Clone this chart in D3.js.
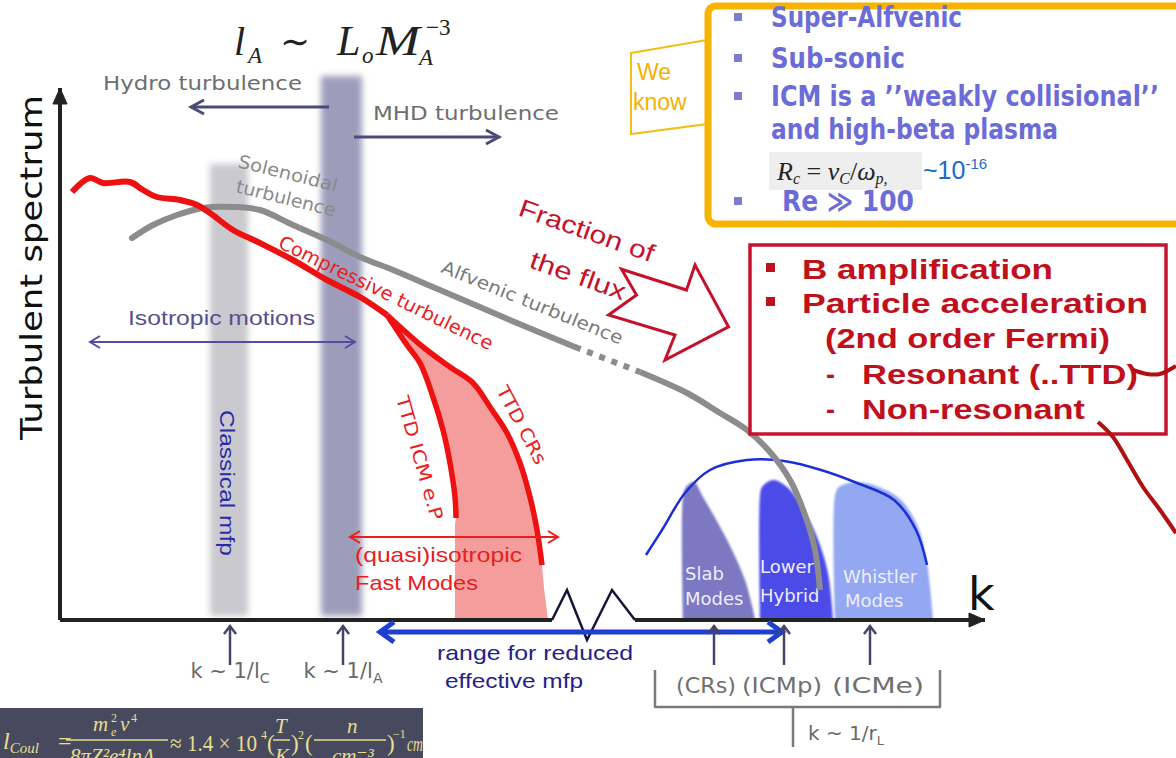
<!DOCTYPE html>
<html>
<head>
<meta charset="utf-8">
<title>Turbulent spectrum in the ICM</title>
<script src="https://cdn.jsdelivr.net/npm/d3@7/dist/d3.min.js"></script>
<style>
    body { margin: 0; background: #ffffff; }
    svg { display: block; }
    .sketch { font-family: 'DejaVu Sans', sans-serif; }
    .arial { font-family: 'Liberation Sans', Arial, sans-serif; }
    .serif { font-family: 'Liberation Serif', 'DejaVu Serif', serif; }
    .narrow { font-family: 'Liberation Sans Narrow', 'DejaVu Sans Condensed', sans-serif; }
</style>
</head>
<body>
<div id="panel"></div>
<script>
// k (arbitrary units, 0..185) against turbulent spectrum (arbitrary units, 0..133)
var compressiveSpectrum = [[2.4,107],[6,110.5],[8.6,109.25],[14,109.5],[16.6,107.5],[19.4,105.75],[24,105],
    [27.4,103.75],[30,101.75],[34.6,97.5],[40,94.25],[46.6,90],[53.4,85],[60,80.75],[65.4,76.25]];
var ttdIcmBranch = [[65.4,76.25],[69.4,68.75],[72,64.25],[74.6,55.75],[76.6,47.5],[78,39.25],[79,30.75],[79.2,25.5]];
var ttdCrsBranch = [[65.4,76.25],[72.6,68.25],[78,63.25],[82.6,59.25],[86,53.25],[89.4,46.75],[92,39.25],
    [94,30.75],[95.4,22.5],[96.4,13.75]];
var alfvenicSpectrum = [[14.4,95.5],[18.6,98.75],[23.4,101.25],[28.6,103],[34.6,103.25],[40,102.5],[46.6,98.75],
    [53.4,95],[60,90.75],[66.6,87.5],[76,82.5],[91.4,74.25],[103,68.25]];
var alfvenicDotted = [[103,68.25],[116,62]];
var alfvenicTail = [[116,62],[125.4,56.75],[132,51.75],[137.4,47.5],[142,42],[146,35],[149,26.25],[151,17.5],[152,7.5]];
var kineticEnvelope = [[117.2,16.25],[120.4,22.5],[125,31.75],[130,37.5],[137.4,40],[144.8,39.75],[152.2,37.5],
    [159.4,34.25],[166.8,30],[171.2,22.5],[173.4,13.75]];
var slabModes = [[124.6,0],[124.6,30.75],[125.2,33.25],[126.8,34.5],[128.6,30.75],[131.6,24.25],[134.4,17.5],
    [137,10],[138.6,2.5],[139,0]];
var lowerHybridModes = [[140,0],[140,31],[140.4,33.25],[142.6,35],[145.4,33.25],[148.4,28.25],[151.4,20.75],
    [153.6,11.75],[154.6,0]];
var whistlerModes = [[155,0],[155,31],[155.8,33.25],[159.4,34.5],[163.8,33.25],[168.2,30],[171.6,23.25],
    [173.4,14.25],[174.6,0]];
var mfpBands = [[30, 37.6, 114], [52.2, 60.4, 136]];          // classical mfp, Alfven scale
var scaleMarkers = [34, 56.6];
var scaleLabels = [["k ~ 1/l", "C"], ["k ~ 1/l", "A"]];
var larmorMarkers = [130.8, 144.8, 162];
var larmorLabels = ["(CRs)", "(ICMp)", "(ICMe)"];
var modeLabels = [["Slab", "Modes"], ["Lower", "Hybrid"], ["Whistler", "Modes"]];
var fluxArrow = [[112.3,87.7],[125.3,82.5],[127,88.75],[133.7,73.3],[121,65],[123,71.25],[109.7,76.25],[115.3,81.25]];
var resonantLink = [[214.6,62.5],[217.4,61.5],[220,61.5],[223.2,63.5]];
var nonResonantLink = [[207.6,49.5],[210.6,45.75],[213.4,40],[216.6,33.25],[220,27.5],[223.2,21.75]];
var weKnowItems = ["Super-Alfvenic", "Sub-sonic", "ICM is a \u2019\u2019weakly collisional\u2019\u2019", "and high-beta plasma", "Re \u226B 100"];
var roleItems = ["B amplification", "Particle acceleration", "(2nd order Fermi)", "Resonant (..TTD)", "Non-resonant"];

var svg = d3.select("#panel").append("svg").attr("width", 1176).attr("height", 758);
var x = d3.scaleLinear().domain([0, 185]).range([60, 985]);
var y = d3.scaleLinear().domain([0, 133]).range([620, 88]);
var line = d3.line().x(d => x(d[0])).y(d => y(d[1]));
var smooth = d3.line().x(d => x(d[0])).y(d => y(d[1])).curve(d3.curveCatmullRom.alpha(0.5));

var defs = svg.append("defs");
defs.append("filter").attr("id", "soft").attr("x", "-30%").attr("width", "160%").attr("y", "-5%").attr("height", "110%")
    .append("feGaussianBlur").attr("stdDeviation", 3);
defs.append("filter").attr("id", "soft1").attr("x", "-10%").attr("width", "120%").attr("y", "-10%").attr("height", "120%")
    .append("feGaussianBlur").attr("stdDeviation", 1.3);

function arrowHead(id, color, len, wid, filled, sw) {
    defs.append("marker")
        .attr("id", id)
        .attr("markerUnits", "userSpaceOnUse")
        .attr("markerWidth", len + 8).attr("markerHeight", wid + 8)
        .attr("viewBox", [-4, -4, len + 8, wid + 8].join(" "))
        .attr("refX", len).attr("refY", wid / 2)
        .attr("orient", "auto-start-reverse")
        .attr("overflow", "visible")
        .append("path")
        .attr("d", filled ? `M0,0L${len},${wid / 2}L0,${wid}Z` : `M0,0L${len},${wid / 2}L0,${wid}`)
        .attr("fill", filled ? color : "none")
        .attr("stroke", color)
        .attr("stroke-width", sw);
}
arrowHead("axisHead", "#222222", 16, 14, true, 1);
arrowHead("slateHead", "#4b4b7a", 13, 14, false, 3);
arrowHead("purpleHead", "#5a4a9e", 10, 12, false, 2);
arrowHead("redHead", "#e8201c", 10, 12, false, 2);
arrowHead("blueHead", "#1f3fd0", 14, 20, false, 5);
arrowHead("tickHead", "#44446a", 8, 12, false, 2.5);

function txt(g, s, px, py, o) {
    o = o || {};
    var t = g.append("text").attr("x", px).attr("y", py).text(s)
        .attr("font-size", o.size || 20).attr("fill", o.fill || "#333")
        .attr("class", o.cls || "sketch");
    if (o.rot) t.attr("transform", "rotate(" + o.rot + "," + px + "," + py + ")");
    if (o.len) t.attr("textLength", o.len).attr("lengthAdjust", "spacingAndGlyphs");
    if (o.weight) t.attr("font-weight", o.weight);
    if (o.style) t.attr("font-style", o.style);
    if (o.anchor) t.attr("text-anchor", o.anchor);
    return t;
}

function arrow(g, a, b, color, width, head, both) {
    var l = g.append("path").attr("d", line([a, b])).attr("stroke", color)
        .attr("stroke-width", width).attr("fill", "none").attr("marker-end", "url(#" + head + ")");
    if (both) l.attr("marker-start", "url(#" + head + ")");
    return l;
}

// ---- vertical scale bands ----
var bandColors = ["#c9c9ce", "#9d9dbb"];
svg.append("g").selectAll("rect").data(mfpBands).join("rect")
    .attr("x", d => x(d[0])).attr("width", d => x(d[1]) - x(d[0]))
    .attr("y", d => y(d[2])).attr("height", d => y(0) - y(d[2]) - 4)
    .attr("fill", (d, i) => bandColors[i]).attr("filter", "url(#soft)");

// ---- fast-mode damping region ----
var pinkArea = ttdIcmBranch.concat([[79, 24], [79, 0], [97.6, 0], [96.8, 8]], ttdCrsBranch.slice().reverse());
svg.append("path").attr("d", line(pinkArea) + "Z").attr("fill", "#f59d9d");

// ---- kinetic modes ----
var modeColors = ["#7c78c2", "#4b4be8", "#93a7f2"];
svg.append("g").selectAll("path").data([slabModes, lowerHybridModes, whistlerModes]).join("path")
    .attr("d", d => smooth(d) + "Z").attr("fill", (d, i) => modeColors[i]).attr("filter", "url(#soft1)");
var modeAnchors = [[[125, 10], [125, 3.75]], [[140, 11.75], [140, 4.5]], [[156.6, 9.25], [157, 3.25]]];
modeLabels.forEach(function(pair, i) {
    pair.forEach(function(s, j) {
        txt(svg, s, x(modeAnchors[i][j][0]), y(modeAnchors[i][j][1]), {size: 18, fill: "#eeeeff"});
    });
});
svg.append("path").attr("d", smooth(kineticEnvelope)).attr("fill", "none")
    .attr("stroke", "#1b2fd6").attr("stroke-width", 2.5);

// ---- Alfvenic (solenoidal) spectrum ----
svg.append("path").attr("d", smooth(alfvenicSpectrum)).attr("fill", "none")
    .attr("stroke", "#8c8c8c").attr("stroke-width", 6).attr("stroke-linecap", "round");
svg.append("path").attr("d", line(alfvenicDotted)).attr("fill", "none")
    .attr("stroke", "#8c8c8c").attr("stroke-width", 6).attr("stroke-dasharray", "6,7");
svg.append("path").attr("d", smooth(alfvenicTail)).attr("fill", "none")
    .attr("stroke", "#8c8c8c").attr("stroke-width", 6);

// ---- compressive spectrum ----
svg.append("path").attr("d", smooth(compressiveSpectrum)).attr("fill", "none")
    .attr("stroke", "#ee1111").attr("stroke-width", 6).attr("stroke-linejoin", "round");
svg.append("path").attr("d", smooth(ttdIcmBranch)).attr("fill", "none")
    .attr("stroke", "#ee1111").attr("stroke-width", 5.5);
svg.append("path").attr("d", smooth(ttdCrsBranch)).attr("fill", "none")
    .attr("stroke", "#ee1111").attr("stroke-width", 5.5);

// ---- axes ----
svg.append("path").attr("d", line([[0, 0], [0, 133]])).attr("stroke", "#222").attr("stroke-width", 4)
    .attr("marker-end", "url(#axisHead)");
svg.append("path").attr("d", line([[0, 0], [98.4, 0]])).attr("stroke", "#222").attr("stroke-width", 4);
svg.append("path").attr("d", line([[98.4, 0], [101.4, 7.5], [105.4, -5], [110.4, 7.5], [115, 0]]))
    .attr("stroke", "#15153a").attr("stroke-width", 2.5).attr("fill", "none");
svg.append("path").attr("d", line([[115, 0], [185, 0]])).attr("stroke", "#222").attr("stroke-width", 4)
    .attr("marker-end", "url(#axisHead)");
txt(svg, "k", x(181.6), y(2.5), {size: 46, fill: "#111"});
txt(svg, "Turbulent spectrum", 42, 440, {size: 31, fill: "#111", rot: -90, len: 345});

// ---- scale arrows and labels ----
arrow(svg, [53.8, 128.25], [26.2, 128.25], "#4b4b7a", 3, "slateHead");
arrow(svg, [58.8, 120.75], [87.8, 120.75], "#4b4b7a", 3, "slateHead");
txt(svg, "Hydro turbulence", x(8.6), y(132.5), {size: 20, fill: "#6e6e6e", len: 199});
txt(svg, "MHD turbulence", x(62.6), y(125), {size: 20, fill: "#6e6e6e", len: 186});

txt(svg, "Solenoidal", x(35.4), y(113.25), {size: 18, fill: "#8a8a8a", rot: 14, len: 102});
txt(svg, "turbulence", x(35), y(107), {size: 18, fill: "#8a8a8a", rot: 14, len: 102});
txt(svg, "Compressive turbulence", x(43.4), y(93.25), {size: 19, fill: "#e82020", rot: 26, len: 236});
txt(svg, "Alfvenic turbulence", x(76), y(87), {size: 18, fill: "#7a7a7a", rot: 22, len: 194});
txt(svg, "TTD ICM e.P", x(67.2), y(55.5), {size: 18, fill: "#e82020", rot: 74, len: 128});
txt(svg, "TTD CRs", x(87.2), y(57.5), {size: 18, fill: "#e82020", rot: 62, len: 86});

txt(svg, "Isotropic motions", x(13.6), y(73.75), {size: 21, fill: "#5a4e92", cls: "arial", len: 187});
arrow(svg, [6, 69.5], [59, 69.5], "#5a4a9e", 2, "purpleHead", true);
txt(svg, "Classical mfp", x(32), y(52.5), {size: 20, fill: "#2b2ba8", cls: "arial", rot: 90, len: 146});

arrow(svg, [58, 20.75], [99.6, 20.75], "#e8201c", 2, "redHead", true);
txt(svg, "(quasi)isotropic", x(59), y(14.5), {size: 21, fill: "#e8201c", cls: "arial", len: 167});
txt(svg, "Fast Modes", x(59), y(7.5), {size: 21, fill: "#e8201c", cls: "arial", len: 123});

arrow(svg, [64, -3], [144.4, -3], "#1f3fd0", 5, "blueHead", true);
txt(svg, "range for reduced", x(75.4), y(-10), {size: 21, fill: "#22228a", cls: "arial", len: 196});
txt(svg, "effective mfp", x(77), y(-17), {size: 21, fill: "#22228a", cls: "arial", len: 138});

scaleMarkers.forEach(function(k, i) {
    arrow(svg, [k, -11.25], [k, -1.5], "#44446a", 2.5, "tickHead");
    var t = txt(svg, scaleLabels[i][0], x(k), y(-14.5), {size: 21, fill: "#6a6a6a", anchor: "middle"});
    t.append("tspan").attr("dy", 5).attr("font-size", 14).text(scaleLabels[i][1]);
});
var larmorShift = [-8, -2, 8], larmorLen = [60, 80, 92];
larmorMarkers.forEach(function(k, i) {
    arrow(svg, [k, -11.25], [k, -1.5], "#44446a", 2.5, "tickHead");
    txt(svg, larmorLabels[i], x(k) + larmorShift[i], y(-18.25),
        {size: 21, fill: "#707070", anchor: "middle", len: larmorLen[i]});
});
svg.append("path")
    .attr("d", line([[119, -12.5], [119, -21.75], [176, -21.75], [176, -12.5]]) + line([[146.6, -21.75], [146.6, -31.75]]))
    .attr("fill", "none").attr("stroke", "#7a7a7a").attr("stroke-width", 2.5).attr("stroke-linejoin", "round");
var rl = txt(svg, "k ~ 1/r", x(149.6), y(-30), {size: 20, fill: "#6a6a6a"});
rl.append("tspan").attr("dy", 5).attr("font-size", 13).text("L");

// ---- fraction of the flux ----
txt(svg, "Fraction of", x(91.4), y(101.25), {size: 25, fill: "#c5122a", cls: "arial", rot: 19.5, len: 142});
txt(svg, "the flux", x(93.6), y(88.25), {size: 25, fill: "#c5122a", cls: "arial", rot: 19.5, len: 100});
svg.append("path").attr("d", line(fluxArrow) + "Z").attr("fill", "#ffffff")
    .attr("stroke", "#c5122a").attr("stroke-width", 3).attr("stroke-linejoin", "miter");

// ---- top formula ----
var fm = {fill: "#222", cls: "serif", style: "italic"};
txt(svg, "l", 234, 55, Object.assign({size: 40}, fm));
txt(svg, "A", 248, 63, Object.assign({size: 23}, fm));
txt(svg, "\u223C", 280, 54, {size: 36, fill: "#222", cls: "serif"});
txt(svg, "L", 337, 55, Object.assign({size: 42}, fm));
txt(svg, "o", 362, 63, Object.assign({size: 23}, fm));
txt(svg, "M", 376, 55, Object.assign({size: 42, len: 44}, fm));
txt(svg, "A", 419, 65, Object.assign({size: 23}, fm));
txt(svg, "\u22123", 426, 35, {size: 23, fill: "#222", cls: "serif"});

// ---- "We know" box ----
svg.append("path").attr("d", "M631,53L707,40L707,124L631,134Z").attr("fill", "#fff")
    .attr("stroke", "#f4be1a").attr("stroke-width", 2);
txt(svg, "We", 637, 80, {size: 23, fill: "#f2b200", cls: "arial"});
txt(svg, "know", 633, 110, {size: 23, fill: "#f2b200", cls: "arial"});
svg.append("rect").attr("x", 708).attr("y", 6).attr("width", 500).attr("height", 218).attr("rx", 8)
    .attr("fill", "#fff").attr("stroke", "#f6b400").attr("stroke-width", 7);
var knowBase = [27, 68, 106, 139, 211], knowX = [771, 771, 771, 771, 782], knowLen = [191, 134, 388, 287, 132];
weKnowItems.forEach(function(s, i) {
    txt(svg, s, knowX[i], knowBase[i], {size: 28, fill: "#6c6cd8", cls: "narrow", weight: "bold", len: knowLen[i]});
    if (i !== 3) svg.append("rect").attr("x", 734).attr("y", knowBase[i] - 14).attr("width", 8).attr("height", 8).attr("fill", "#7d7dd0");
});
svg.append("rect").attr("x", 769).attr("y", 152).attr("width", 153).attr("height", 38).attr("fill", "#eeeeee");
var rc = txt(svg, "R", 777, 180, {size: 26, fill: "#222", cls: "serif", style: "italic"});
rc.append("tspan").attr("font-size", 16).attr("dy", 4).text("c");
rc.append("tspan").attr("font-size", 26).attr("dy", -4).attr("font-style", "normal").text(" = ");
rc.append("tspan").attr("font-size", 26).text("\u03BD");
rc.append("tspan").attr("font-size", 16).attr("dy", 4).text("C");
rc.append("tspan").attr("font-size", 26).attr("dy", -4).attr("font-style", "normal").text("/");
rc.append("tspan").attr("font-size", 26).text("\u03C9");
rc.append("tspan").attr("font-size", 16).attr("dy", 4).text("p,");
var ten = txt(svg, "~10", 923, 179, {size: 25, fill: "#1a6bc8", cls: "arial"});
ten.append("tspan").attr("font-size", 15).attr("dy", -10).text("-16");

// ---- roles box ----
svg.append("rect").attr("x", 750).attr("y", 245).attr("width", 416).attr("height", 189)
    .attr("fill", "#fff").attr("stroke", "#c4122f").attr("stroke-width", 3.5);
var roleBase = [279, 313, 348, 384, 419], roleX = [802, 802, 825, 862, 862], roleLen = [251, 346, 285, 276, 223];
roleItems.forEach(function(s, i) {
    txt(svg, s, roleX[i], roleBase[i], {size: 27, fill: "#c0101c", cls: "arial", weight: "bold", len: roleLen[i]});
    if (i < 2) svg.append("rect").attr("x", 766).attr("y", roleBase[i] - 16).attr("width", 9).attr("height", 9).attr("fill", "#c0101c");
    if (i > 2) txt(svg, "-", 826, roleBase[i], {size: 27, fill: "#c0101c", cls: "arial", weight: "bold"});
});
svg.append("path").attr("d", smooth(resonantLink)).attr("fill", "none").attr("stroke", "#b01010").attr("stroke-width", 4);
svg.append("path").attr("d", smooth(nonResonantLink)).attr("fill", "none").attr("stroke", "#b01010").attr("stroke-width", 4);

// ---- Coulomb mfp formula ----
defs.append("clipPath").attr("id", "fclip").append("rect").attr("x", 0).attr("y", 708).attr("width", 423).attr("height", 50);
var fg = svg.append("g").attr("clip-path", "url(#fclip)");
fg.append("rect").attr("x", 0).attr("y", 708).attr("width", 423).attr("height", 50).attr("fill", "#474a5e");
var fc = "#e8df8f";
var fs = {fill: fc, cls: "serif"}, fi = {fill: fc, cls: "serif", style: "italic"};
var lc = txt(fg, "l", 3, 749, Object.assign({size: 24}, fi));
lc.append("tspan").attr("font-size", 15).attr("dy", 4).text("Coul");
txt(fg, "=", 58, 749, Object.assign({size: 24}, fs));
txt(fg, "m", 93, 731, Object.assign({size: 21}, fi));
txt(fg, "2", 111, 722, Object.assign({size: 12}, fs));
txt(fg, "e", 111, 736, Object.assign({size: 12}, fi));
txt(fg, "v", 120, 731, Object.assign({size: 21}, fi));
txt(fg, "4", 131, 722, Object.assign({size: 12}, fs));
fg.append("line").attr("x1", 66).attr("x2", 168).attr("y1", 740).attr("y2", 740).attr("stroke", fc).attr("stroke-width", 1.5);
txt(fg, "8\u03C0Z\u00B2e\u2074ln\u039B", 70, 763, Object.assign({size: 21}, fi));
txt(fg, "\u2248 1.4 \u00D7 10", 170, 751, Object.assign({size: 23, len: 87}, fs));
txt(fg, "4", 261, 739, Object.assign({size: 12}, fs));
txt(fg, "(", 267, 751, Object.assign({size: 23}, fs));
txt(fg, "T", 275, 733, Object.assign({size: 21}, fi));
fg.append("line").attr("x1", 273).attr("x2", 290).attr("y1", 740).attr("y2", 740).attr("stroke", fc).attr("stroke-width", 1.5);
txt(fg, "K", 275, 763, Object.assign({size: 21}, fi));
txt(fg, ")", 291, 751, Object.assign({size: 23}, fs));
txt(fg, "2", 298, 739, Object.assign({size: 12}, fs));
txt(fg, "(", 305, 751, Object.assign({size: 23}, fs));
txt(fg, "n", 347, 733, Object.assign({size: 21}, fi));
fg.append("line").attr("x1", 314).attr("x2", 386).attr("y1", 740).attr("y2", 740).attr("stroke", fc).attr("stroke-width", 1.5);
txt(fg, "cm\u207B\u00B3", 332, 763, Object.assign({size: 21}, fi));
txt(fg, ")", 387, 751, Object.assign({size: 23}, fs));
txt(fg, "\u22121", 393, 738, Object.assign({size: 12}, fs));
txt(fg, "cm", 407, 751, Object.assign({size: 20, len: 16}, fi));
</script>
</body>
</html>
